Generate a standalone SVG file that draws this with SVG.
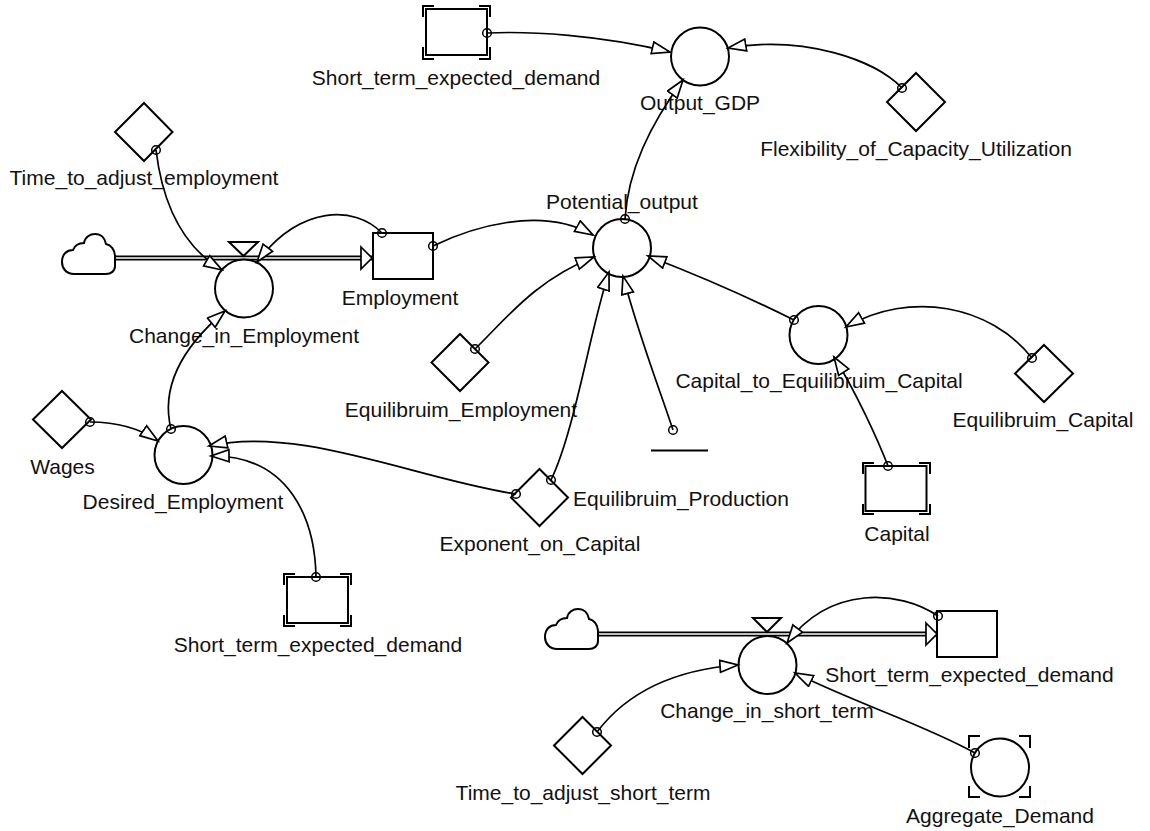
<svg xmlns="http://www.w3.org/2000/svg" width="1150" height="831" viewBox="0 0 1150 831">
<style>
text{font-family:"Liberation Sans",Arial,sans-serif;font-size:21px;fill:#111;text-anchor:middle}
.s{fill:#fff;stroke:#000;stroke-width:2}
.b{fill:none;stroke:#000;stroke-width:2}
.c{fill:none;stroke:#000;stroke-width:1.7;marker-end:url(#a);marker-start:url(#o)}
.f{fill:none;stroke:#000;stroke-width:5}
.g{fill:none;stroke:#fff;stroke-width:1.5}
</style>
<defs>
<marker id="a" markerUnits="userSpaceOnUse" markerWidth="22" markerHeight="16" refX="19" refY="7" orient="auto"><path d="M1 1L19 7L1 13Z" fill="#fff" stroke="#000" stroke-width="1.7"/></marker>
<marker id="o" markerUnits="userSpaceOnUse" markerWidth="12" markerHeight="12" refX="6" refY="6"><circle cx="6" cy="6" r="4.300" fill="none" stroke="#000" stroke-width="1.500"/></marker>
<marker id="h" markerUnits="userSpaceOnUse" markerWidth="16" markerHeight="26" refX="12" refY="13" orient="auto"><path d="M1 2L12 13L1 24Z" fill="#fff" stroke="#000" stroke-width="1.7"/></marker>
</defs>
<g id="flows">
<path class="f" d="M115 258H372"/><path class="g" d="M115 258H366"/><path d="M362 258h10" fill="none" marker-end="url(#h)"/>
<path class="f" d="M598 634H937"/><path class="g" d="M598 634H931"/><path d="M927 634h10" fill="none" marker-end="url(#h)"/>
</g>
<g id="node-cloud1"><path class="s" d="M74 274C66 274 62 268 62 262C62 254 67 250 73 250C75 245 80 243 84 243C85 237 90 234 95 234C101 234 105 238 106 244C111 245 115 250 115 256L115 266C115 271 111 274 106 274Z"/></g>
<g id="node-cloud2"><path class="s" d="M557 649C549 649 545 643 545 637C545 629 550 625 556 625C558 620 563 618 567 618C568 612 573 609 578 609C584 609 588 613 589 619C594 620 598 625 598 631L598 641C598 646 594 649 589 649Z"/></g>
<g id="node-valve1"><path class="s" d="M229 242H258L243.500 256Z"/><circle class="s" cx="244" cy="288.500" r="29"/><text x="244" y="343">Change_in_Employment</text></g>
<g id="node-valve2"><path class="s" d="M753 618H781L767 632Z"/><circle class="s" cx="767.500" cy="665" r="29"/><text x="767" y="718">Change_in_short_term</text></g>
<g id="node-employment"><rect class="s" x="373" y="233" width="60" height="46"/><text x="400" y="305">Employment</text></g>
<g id="node-stock2"><rect class="s" x="937" y="611" width="60" height="46"/><text x="969.500" y="682">Short_term_expected_demand</text></g>
<g id="node-stock-top"><rect class="s" x="426" y="9" width="61" height="46"/><path class="b" d="M423 17V6H434M479 6H490V17M423 47V59H434M479 59H490V47"/><text x="456" y="85">Short_term_expected_demand</text></g>
<g id="node-stock-bottom"><rect class="s" x="287" y="577" width="61" height="46"/><path class="b" d="M284 585V574H295M340 574H351V585M284 615V626H295M340 626H351V615"/><text x="318" y="652">Short_term_expected_demand</text></g>
<g id="node-capital"><rect class="s" x="865.500" y="466" width="61" height="45"/><path class="b" d="M863 474V463H874M919 463H930V474M863 504V514H874M919 514H930V504"/><text x="897" y="541">Capital</text></g>
<g id="node-output"><circle class="s" cx="700" cy="56.500" r="29"/><text x="700" y="110">Output_GDP</text></g>
<g id="node-potential"><circle class="s" cx="622" cy="248" r="29"/><text x="622" y="209">Potential_output</text></g>
<g id="node-cap-ratio"><circle class="s" cx="818.500" cy="335" r="29"/><text x="819" y="388">Capital_to_Equilibruim_Capital</text></g>
<g id="node-desired"><circle class="s" cx="183.500" cy="455" r="29"/><text x="183" y="509">Desired_Employment</text></g>
<g id="node-aggregate"><circle class="s" cx="1000" cy="767.500" r="29"/><path class="b" d="M969 748V736H980M1019 736H1030V748M969 786V797H980M1019 797H1030V786"/><text x="1000" y="823">Aggregate_Demand</text></g>
<g id="node-time"><path class="s" d="M144 103L172.500 132L144 161L115 132Z"/><text x="144" y="185">Time_to_adjust_employment</text></g>
<g id="node-flex"><path class="s" d="M916 73L945 102L916 131L887 102Z"/><text x="916" y="156">Flexibility_of_Capacity_Utilization</text></g>
<g id="node-eq-emp"><path class="s" d="M460 334L488.500 362.500L460 391L431.500 362.500Z"/><text x="461" y="417">Equilibruim_Employment</text></g>
<g id="node-wages"><path class="s" d="M62 391L91 419.500L62 448L33 419.500Z"/><text x="62.500" y="474">Wages</text></g>
<g id="node-exp"><path class="s" d="M539.500 469L568 497.500L539.500 526L511 497.500Z"/><text x="540" y="551">Exponent_on_Capital</text><text x="681" y="506">Equilibruim_Production</text></g>
<g id="node-eq-cap"><path class="s" d="M1044 345L1073 373.500L1044 402L1015 373.500Z"/><text x="1043" y="427">Equilibruim_Capital</text></g>
<g id="node-time2"><path class="s" d="M582.500 717L611 745.500L582.500 774L554 745.500Z"/><text x="583" y="800">Time_to_adjust_short_term</text></g>
<g id="node-sink"><path class="b" d="M651 450.500H708"/></g>
<g id="connectors">
<path class="c" d="M487 33C530 31 600 35 670 52"/>
<path class="c" d="M902 88C875 60 805 35 728 48"/>
<path class="c" d="M625 219C628 170 650 125 683 80"/>
<path class="c" d="M156 150C162 200 180 245 222 270"/>
<path class="c" d="M382 233C355 205 300 205 257 262"/>
<path class="c" d="M433 246C470 228 540 205 593 235"/>
<path class="c" d="M475 349C505 320 535 280 594 257"/>
<path class="c" d="M673 430C660 390 640 340 623 276"/>
<path class="c" d="M551 480C575 430 590 330 609 272"/>
<path class="c" d="M794 320C760 303 710 280 648 256"/>
<path class="c" d="M888 466C878 440 855 390 834 357"/>
<path class="c" d="M1032 358C990 305 910 290 846 327"/>
<path class="c" d="M171 429C160 385 185 345 225 311"/>
<path class="c" d="M90 422C110 422 135 425 158 441"/>
<path class="c" d="M516 494C420 480 300 425 209 446"/>
<path class="c" d="M316 577C315 520 290 455 211 456"/>
<path class="c" d="M938 616C900 590 830 585 787 643"/>
<path class="c" d="M597 732C625 695 670 670 738 665"/>
<path class="c" d="M975 753C925 725 860 705 795 673"/>
</g>
</svg>
